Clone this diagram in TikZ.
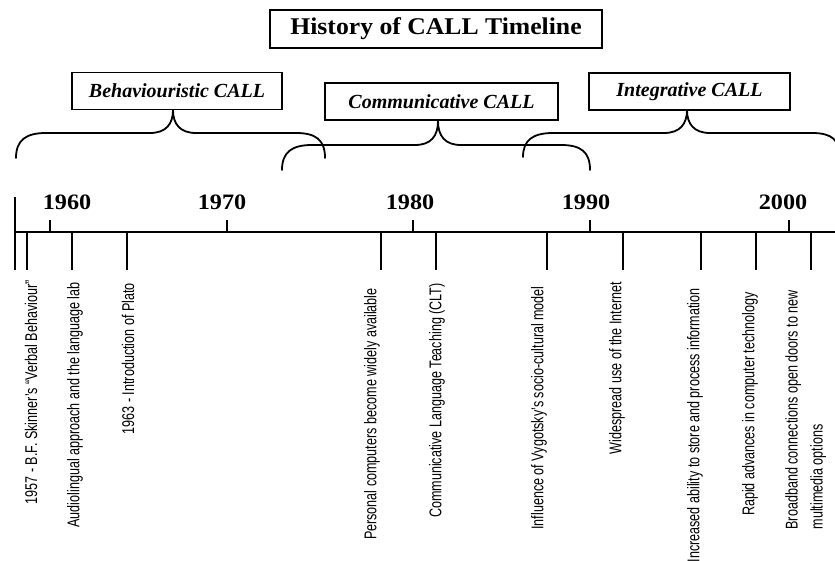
\documentclass[tikz,border=0pt]{standalone}
\usepackage{fontspec}
\setmainfont{Liberation Serif}
\newfontfamily\evfont[FakeStretch=0.74]{Liberation Sans}
\newfontfamily\yrfont[FakeStretch=1.1]{Liberation Serif}
\newfontfamily\ttlfont[FakeStretch=1.07]{Liberation Serif}
\begin{document}
\begin{tikzpicture}[x=1pt,y=-1pt,
  titlebox/.style={draw,line width=1.4pt,minimum width=332pt,minimum height=38pt,inner sep=0pt,
    font=\ttlfont\bfseries\fontsize{24}{26}\selectfont},
  erabox/.style={draw,line width=1.3pt,minimum height=37pt,inner sep=0pt,
    font=\bfseries\itshape\fontsize{20}{22}\selectfont},
  bracestyle/.style={line width=1.8pt,line cap=round},
  axis/.style={line width=1.3pt},
  tickline/.style={line width=1.3pt},
  yearlab/.style={font=\yrfont\bfseries\fontsize{22}{24}\selectfont,inner sep=0pt},
  evlab/.style={rotate=90,anchor=east,inner sep=0pt,font=\evfont\fontsize{17}{25}\selectfont}]
\useasboundingbox (0,0) rectangle (835,561);
\clip (0,0) rectangle (835,561);

% title and era boxes
\node[titlebox] (title) at (436,29) {History of CALL Timeline};
\node[erabox,minimum width=210pt] (behav) at (177,91) {Behaviouristic CALL};
\node[erabox,minimum width=233pt] (comm) at (441.5,101.5) {Communicative CALL};
\node[erabox,minimum width=201pt] (integ) at (689.5,91.5) {Integrative CALL};

% braces
\coordinate (bt) at (173,110);
\coordinate (ct) at (438,121);
\coordinate (it) at (687,110);
\draw[bracestyle] (16,158) .. controls (16,140) and (26,133) .. (46,133) -- (150,133)
  .. controls (166,133) and (173,124) .. (bt)
  .. controls (173,124) and (180,133) .. (196,133) -- (296,133)
  .. controls (316,133) and (325,140) .. (325,158);
\draw[bracestyle] (282,170) .. controls (282,152) and (292,145) .. (312,145) -- (415,145)
  .. controls (431,145) and (438,136) .. (ct)
  .. controls (438,136) and (445,145) .. (461,145) -- (561,145)
  .. controls (581,145) and (590,152) .. (590,170);
\draw[bracestyle] (523,157) .. controls (523,140) and (533,133) .. (553,133) -- (664,133)
  .. controls (680,133) and (687,124) .. (it)
  .. controls (687,124) and (694,133) .. (710,133) -- (812,133)
  .. controls (832,133) and (840,140) .. (840,158);

% axis
\coordinate (a0) at (15,232);
\coordinate (a1) at (835,232);
\draw[axis] (a0) -- (a1);
\draw[line width=2.6pt] (15,197) -- (15,270);

% year ticks and labels
\foreach \nm/\tx/\lx in {1960/50/67,1970/227/222,1980/413/410,1990/590/586,2000/789/783}{
  \coordinate (yt\nm) at (\tx,232);
  \draw[tickline] (yt\nm) -- ++(0,-12);
  \node[yearlab] (y\nm) at (\lx,202) {\nm};
}

% event ticks
\foreach \i/\tx in {1/27,2/72,3/127,4/381,5/436,6/547,7/623,8/701,9/756,10/811}{
  \coordinate (et\i) at (\tx,232);
  \coordinate (eb\i) at (\tx,270);
  \draw[tickline] (et\i) -- (eb\i);
}

% event labels
\node[evlab] (e1) at (31,280) {1957 - B.F. Skinner’s “Verbal Behaviour”};
\node[evlab] (e2) at (75,282) {Audiolingual approach and the language lab};
\node[evlab] (e3) at (128,283) {1963 - Introduction of Plato};
\node[evlab] (e4) at (372,288) {Personal computers become widely available};
\node[evlab] (e5) at (437,283) {Communicative Language Teaching (CLT)};
\node[evlab] (e6) at (539,286) {Influence of Vygotsky’s socio-cultural model};
\node[evlab] (e7) at (617,282) {Widespread use of the Internet};
\node[evlab] (e8) at (695,288) {Increased ability to store and process information};
\node[evlab] (e9) at (750,292) {Rapid advances in computer technology};
\node[evlab,anchor=north east,align=left] (e10) at (785,290) {Broadband connections open doors to new\\multimedia options};
\end{tikzpicture}
\end{document}
